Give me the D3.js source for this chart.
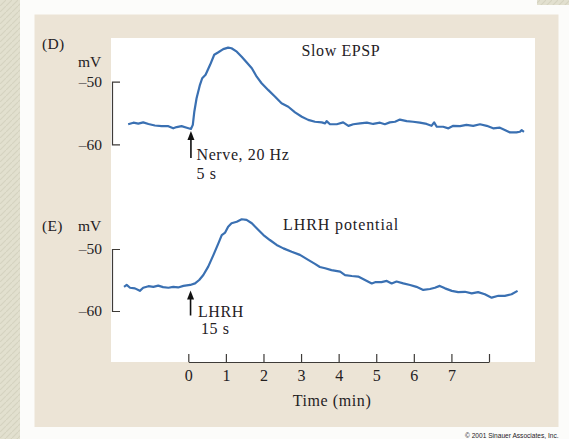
<!DOCTYPE html>
<html>
<head>
<meta charset="utf-8">
<script src="https://cdn.jsdelivr.net/npm/d3@7"></script>
<style>
  html, body { margin: 0; padding: 0; background: #fcfcfa; }
  svg { display: block; }
  text { font-family: "Liberation Serif", "Times New Roman", serif; fill: #24211f; }
</style>
</head>
<body>
<svg id="chart" width="569" height="439"></svg>
<script>
// ---- Data (time in minutes, membrane potential in mV) ----
const slowEpspTime = [-1.60,-1.46,-1.33,-1.20,-1.06,-0.89,-0.71,-0.53,-0.40,-0.31,-0.18,-0.04,0.07,0.12,0.16,0.22,0.31,0.37,0.46,0.58,0.69,0.80,0.93,1.06,1.15,1.29,1.42,1.55,1.69,1.82,1.95,2.13,2.31,2.48,2.66,2.84,3.02,3.19,3.37,3.55,3.64,3.68,3.77,3.95,4.12,4.26,4.39,4.57,4.75,4.92,5.10,5.23,5.36,5.50,5.63,5.81,5.98,6.16,6.34,6.47,6.54,6.61,6.78,6.92,7.05,7.23,7.40,7.58,7.76,7.94,8.11,8.29,8.42,8.56,8.73,8.82,8.87,8.93];
const slowEpspMv   = [-56.8,-56.55,-56.7,-56.5,-56.75,-57.0,-57.1,-57.1,-57.45,-57.25,-57.1,-57.35,-57.55,-56.9,-54.8,-52.65,-50.5,-49.45,-48.9,-47.3,-45.7,-45.3,-44.8,-44.55,-44.65,-45.2,-46.0,-46.9,-47.85,-49.2,-50.25,-51.35,-52.4,-53.45,-54.0,-54.9,-55.6,-56.1,-56.4,-56.5,-56.65,-56.3,-56.8,-56.8,-56.5,-57.05,-56.8,-56.65,-56.55,-56.75,-56.55,-56.8,-56.5,-56.4,-56.05,-56.3,-56.4,-56.55,-56.75,-57.05,-56.5,-57.2,-57.2,-57.45,-57.05,-57.1,-56.9,-57.05,-56.8,-57.05,-57.45,-57.35,-57.7,-58.1,-58.1,-58.0,-57.75,-58.0];

const lhrhTime = [-1.71,-1.64,-1.55,-1.42,-1.29,-1.20,-1.06,-0.93,-0.80,-0.67,-0.53,-0.40,-0.27,-0.13,0.05,0.18,0.29,0.40,0.53,0.67,0.80,0.89,0.98,1.06,1.15,1.29,1.42,1.55,1.69,1.82,2.00,2.17,2.35,2.53,2.75,2.97,3.19,3.37,3.50,3.64,3.81,4.04,4.17,4.35,4.52,4.70,4.88,4.97,5.14,5.28,5.41,5.54,5.72,5.90,6.07,6.25,6.43,6.56,6.69,6.83,7.01,7.18,7.36,7.54,7.71,7.89,8.07,8.25,8.42,8.60,8.76];
const lhrhMv   = [-56.1,-55.8,-56.25,-56.35,-56.75,-56.25,-56.0,-56.1,-55.9,-56.15,-56.25,-56.1,-56.2,-55.95,-55.8,-55.55,-55.0,-54.2,-52.85,-50.95,-49.1,-47.75,-47.35,-46.4,-45.85,-45.6,-45.2,-45.3,-45.85,-46.65,-47.75,-48.55,-49.35,-49.9,-50.45,-50.95,-51.75,-52.4,-52.9,-53.1,-53.4,-53.65,-54.2,-54.35,-54.45,-55.0,-55.55,-55.35,-55.35,-55.15,-55.55,-55.25,-55.55,-55.8,-56.1,-56.6,-56.45,-56.25,-55.95,-56.35,-56.75,-56.95,-56.9,-57.15,-56.95,-57.3,-57.85,-57.55,-57.55,-57.3,-56.75];

const timeTicks = [0, 1, 2, 3, 4, 5, 6, 7, 8];
const timeTickLabels = ["0", "1", "2", "3", "4", "5", "6", "7", ""];
const mvTicks = [-60, -50];
const mvTickLabels = ["\u201360", "\u201350"];
const stimTop = 0.07, stimBottom = 0.06;

// ---- Layout ----
const svg = d3.select("#chart");

// outer textured strips
const defs = svg.append("defs");
const pat = defs.append("pattern").attr("id", "tex").attr("width", 6).attr("height", 6)
  .attr("patternUnits", "userSpaceOnUse");
pat.append("rect").attr("width", 6).attr("height", 6).attr("fill", "#e2e0cf");
pat.append("path").attr("d", "M0,6 L6,0").attr("stroke", "#d5d3c0").attr("stroke-width", 1.1);
svg.append("rect").attr("x", 0).attr("y", 0).attr("width", 20).attr("height", 439).attr("fill", "url(#tex)");
svg.append("rect").attr("x", 537).attr("y", 0).attr("width", 32).attr("height", 5).attr("fill", "url(#tex)");

// beige panel and white plot area
svg.append("rect").attr("x", 34.5).attr("y", 14.5).attr("width", 524).attr("height", 412.5).attr("fill", "#ece4d6");
svg.append("rect").attr("x", 111).attr("y", 38).attr("width", 424).attr("height", 324).attr("fill", "#ffffff");

// scales
const x = d3.scaleLinear().domain([0, 8]).range([188.3, 489]);
const yTop = d3.scaleLinear().domain([-60, -50]).range([144.3, 81.7]);
const yBot = d3.scaleLinear().domain([-60, -50]).range([311, 249]);

const fmtMv = d => mvTickLabels[mvTicks.indexOf(d)];

function bracket(scale) {
  const g = svg.append("g").attr("transform", `translate(112,0)`)
    .call(d3.axisRight(scale).tickValues(mvTicks).tickFormat(fmtMv).tickSizeInner(0).tickSizeOuter(8));
  g.select(".domain").attr("stroke", "#3e3b38").attr("stroke-width", 1.2);
  g.selectAll(".tick line").remove();
  g.selectAll(".tick text").attr("x", -10).attr("dy", "0.32em").attr("text-anchor", "end")
    .style("font-family", '"Liberation Serif", serif').style("font-size", "15.5px").attr("fill", "#24211f");
  return g;
}
bracket(yTop);
bracket(yBot);

// traces
const lineTop = d3.line().x((d, i) => x(slowEpspTime[i])).y(d => yTop(d));
const lineBot = d3.line().x((d, i) => x(lhrhTime[i])).y(d => yBot(d));
svg.append("path").attr("d", lineTop(slowEpspMv)).attr("fill", "none")
  .attr("stroke", "#3a70b2").attr("stroke-width", 2.2).attr("stroke-linejoin", "round");
svg.append("path").attr("d", lineBot(lhrhMv)).attr("fill", "none")
  .attr("stroke", "#3a70b2").attr("stroke-width", 2.2).attr("stroke-linejoin", "round");

// time axis
const xa = svg.append("g").attr("transform", "translate(0,362)")
  .call(d3.axisBottom(x).tickValues(timeTicks).tickFormat((d, i) => timeTickLabels[i])
    .tickSize(-8).tickSizeOuter(0).tickPadding(8));
xa.select(".domain").attr("stroke", "#3e3b38").attr("stroke-width", 1.2);
xa.selectAll(".tick line").attr("stroke", "#3e3b38").attr("stroke-width", 1.2);
xa.selectAll(".tick text").style("font-family", '"Liberation Serif", serif')
  .style("font-size", "16px").attr("fill", "#24211f");

// arrows
function arrow(xpos, tipY, len) {
  svg.append("line").attr("x1", xpos).attr("x2", xpos).attr("y1", tipY + 6).attr("y2", tipY + len)
    .attr("stroke", "#111").attr("stroke-width", 1.6);
  svg.append("path").attr("d", `M${xpos},${tipY} L${xpos - 3.5},${tipY + 9} L${xpos + 3.5},${tipY + 9} Z`).attr("fill", "#111");
}
arrow(x(stimTop), 131, 27);
arrow(x(stimBottom), 290.5, 25);

// texts
function label(t, tx, ty, size, ls, anchor) {
  svg.append("text").attr("x", tx).attr("y", ty).attr("text-anchor", anchor || "start")
    .style("font-size", size + "px").style("letter-spacing", ls + "px").text(t);
}
label("(D)", 42, 49, 15.5, 0.3);
label("mV", 78, 67, 15.5, 0);
label("Slow EPSP", 301.5, 56, 16, 0.6);
label("Nerve, 20 Hz", 196.5, 159.5, 16, 0.6);
label("5 s", 196.5, 178.5, 16, 0.6);

label("(E)", 42, 231, 15.5, 0.3);
label("mV", 78, 231, 15.5, 0);
label("LHRH potential", 283, 230, 16, 0.9);
label("LHRH", 198, 317, 16, 0.6);
label("15 s", 201, 334, 16, 0.6);

label("Time (min)", 332, 405.5, 16, 0.6, "middle");

svg.append("text").attr("x", 465).attr("y", 437.5)
  .style("font-family", '"Liberation Sans", Arial, sans-serif').style("font-size", "6.6px")
  .attr("fill", "#6a6866").text("\u00a9 2001 Sinauer Associates, Inc.");
</script>
</body>
</html>
